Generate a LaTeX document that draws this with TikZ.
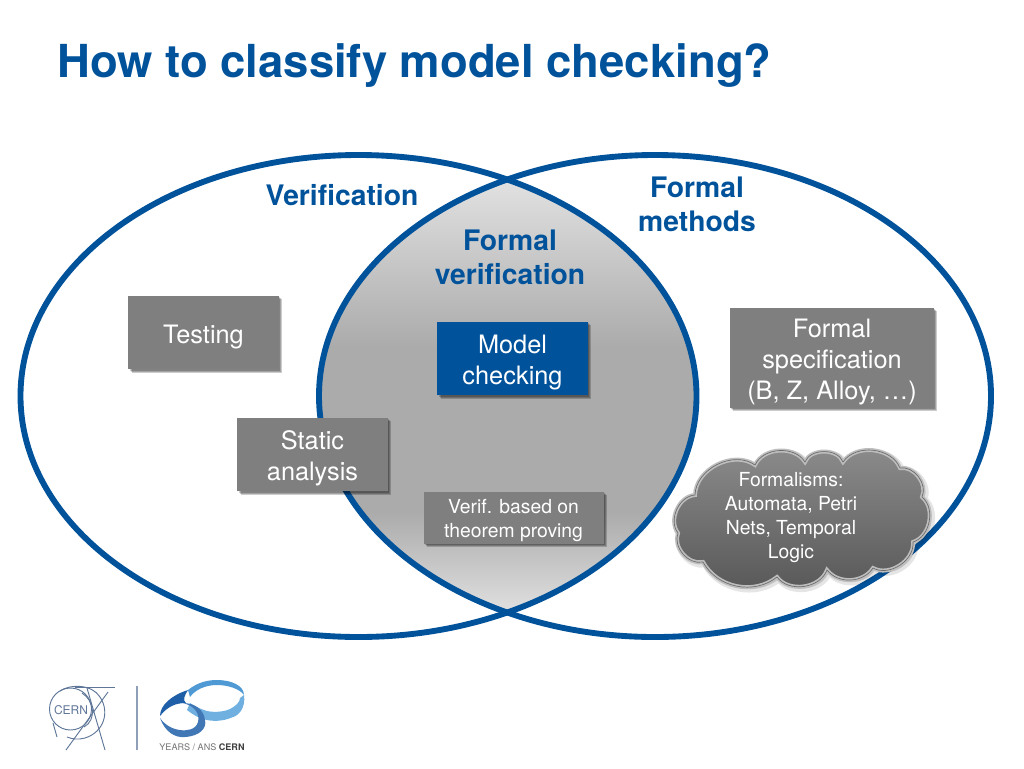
\documentclass[tikz,border=0pt]{standalone}
\usepackage{fontspec}
\setmainfont{TeX Gyre Heros}
\usetikzlibrary{shadows, positioning}
\definecolor{cnBlue}{HTML}{00529B}
\definecolor{cnBox}{HTML}{7F7F7F}
\definecolor{cnHalo}{HTML}{BEBEBE}
\definecolor{cnLogo}{HTML}{5E7698}
\definecolor{cnSkyBlue}{HTML}{4F9AD4}
\definecolor{cnPaleBlue}{HTML}{6FB0E0}
\definecolor{cnDeepBlue}{HTML}{1F5FA8}
\pgfdeclareverticalshading{lensfade}{100bp}{
  color(0bp)=(black!10); color(25bp)=(black!10); color(28bp)=(black!13); color(38bp)=(black!33);
  color(55bp)=(black!33); color(73bp)=(black!11); color(100bp)=(black!11)}
\newcommand{\cloudpath}{(695,495) to[bend left=62] (755,465) to[bend left=62] (805,462) to[bend left=70] (843,462)
    to[bend left=62] (900,468) to[bend left=62] (922,497) to[bend left=62] (913,542)
    to[bend left=62] (873,568) to[bend left=55] (827,570) to[bend left=62] (777,577)
    to[bend left=50] (703,562) to[bend left=62] (678,533) to[bend left=62] cycle}
\tikzset{
  softlayer/.style={drop shadow={shadow xshift=#1, shadow yshift=-#1, opacity=0.2, fill=black}},
  boxshadow/.style={softlayer=2.6pt, softlayer=1.8pt, softlayer=1pt},
  lifted/.style={execute at begin node={\rule{0pt}{#1}}},
  greybox/.style={rectangle, fill=cnBox, text=white, inner ysep=0pt,
    align=center, font=\fontsize{19}{23}\selectfont, boxshadow},
  bluebox/.style={rectangle, fill=cnBlue, text=white, inner ysep=0pt,
    align=center, font=\fontsize{19}{23}\selectfont, boxshadow},
  setlabel/.style={text=cnBlue, align=center, font=\fontsize{21.2}{25.5}\selectfont\bfseries},
  setline/.style={draw=cnBlue, line width=4.4pt},
  logoline/.style={draw=cnLogo, line width=0.7pt}
}
\begin{document}
\begin{tikzpicture}[x=0.75pt, y=-0.75pt]
  \useasboundingbox (0,0) rectangle (1024,768);
  \node[anchor=base west, inner sep=0pt, text=cnBlue, font=\fontsize{34.1}{38}\selectfont\bfseries] (title) at (57,77) {How to classify model checking?};

  % overlap of the two sets
  \begin{scope}
    \clip (358.5,396) ellipse [x radius=338, y radius=241];
    \shade[shading=lensfade] (655,396) ellipse [x radius=336, y radius=241];
  \end{scope}
  \draw[setline] (358.5,396) ellipse [x radius=338, y radius=241];
  \draw[setline] (655,396) ellipse [x radius=336, y radius=241];

  \node[setlabel] (verif) at (342,195) {Verification};
  \node[setlabel] (fmeth) at (697,204) {Formal\\methods};
  \node[setlabel] (fverif) at (510,257) {Formal\\verification};

  \node[greybox, lifted=20pt, minimum width=113pt, minimum height=55pt] (testing) at (203.5,332.5) {Testing};
  \node[greybox, lifted=43pt, minimum width=113pt, minimum height=55pt] (static) at (312.5,454.5) {Static\\analysis};
  \node[bluebox, lifted=43pt, minimum width=113pt, minimum height=55pt] (mc) at (512.5,358.5) {Model\\checking};
  \node[greybox, lifted=66pt, minimum width=153pt, minimum height=75pt] (fspec) at (832,358) {Formal\\specification\\(B, Z, Alloy, …)};
  \node[greybox, lifted=33pt, minimum width=135pt, minimum height=39pt, font=\fontsize{14.5}{18}\selectfont] (thm) at (513.5,517.5) {Verif. based on\\theorem proving};

  % cloud
  \path[fill=black, fill opacity=0.14, xshift=1.5pt, yshift=-1.5pt, line width=5pt, draw=black, draw opacity=0.1] \cloudpath;
  \path[draw=cnHalo, line width=3pt, top color=black!45, bottom color=black!66] \cloudpath;
  \draw[black!58, line width=0.5pt] \cloudpath;
  \node[text=white, align=center, font=\fontsize{14.5}{18}\selectfont] (forms) at (791,518) {Formalisms:\\Automata, Petri\\Nets, Temporal\\Logic};

  % logos
  \draw[logoline] (70.5,709) circle [radius=21];
  \draw[logoline] (53,723) -- (57,737);
  \draw[logoline] (60,691) .. controls (70,684) and (92,684) .. (100,697) .. controls (110,712) and (104,732) .. (85,738) .. controls (78,740) and (72,739) .. (67,737);
  \draw[logoline] (82,693) .. controls (94,700) and (97,720) .. (84,727);
  \draw[logoline] (75,687) -- (115,687);
  \draw[logoline] (108,692) -- (66,750);
  \draw[logoline] (87,688) -- (105,750);
  \node[text=cnLogo, inner sep=0pt, font=\fontsize{9}{11}\selectfont] (cern) at (71,710) {CERN};
  \draw[draw=cnLogo!70, line width=0.8pt] (137,686) -- (137,750);

  \fill[cnSkyBlue] (188,690) .. controls (198,682) and (208,680) .. (217,680)
    .. controls (232,680) and (244,686) .. (244,695) .. controls (240,689) and (228,685) .. (217,685)
    .. controls (205,685) and (195,690) .. (190,697) -- cycle;
  \fill[cnPaleBlue] (244,695) .. controls (246,708) and (238,716) .. (233,717)
    .. controls (222,722) and (212,721) .. (207,720) .. controls (198,718) and (192,714) .. (187,710)
    -- (190,703) .. controls (196,707) and (203,710) .. (207,711)
    .. controls (216,713) and (226,711) .. (230,709) .. controls (236,706) and (240,702) .. (240,698) -- cycle;
  \fill[cnDeepBlue] (188,690) .. controls (172,695) and (160,705) .. (160,716)
    .. controls (168,706) and (176,703) .. (186,703) .. controls (182,700) and (185,695) .. (188,690);
  \fill[cnDeepBlue!85] (160,718) .. controls (165,732) and (175,738) .. (185,737)
    .. controls (200,736) and (207,728) .. (205,720) .. controls (204,710) and (195,703) .. (183,703)
    .. controls (195,706) and (200,714) .. (198,722) .. controls (196,730) and (186,731) .. (180,730)
    .. controls (172,729) and (165,725) .. (160,718);
  \node[text=black!55, inner sep=0pt, font=\fontsize{6.8}{8}\selectfont] (years) at (202,747.5) {YEARS / ANS \textcolor{black!75}{\bfseries CERN}};
\end{tikzpicture}
\end{document}
